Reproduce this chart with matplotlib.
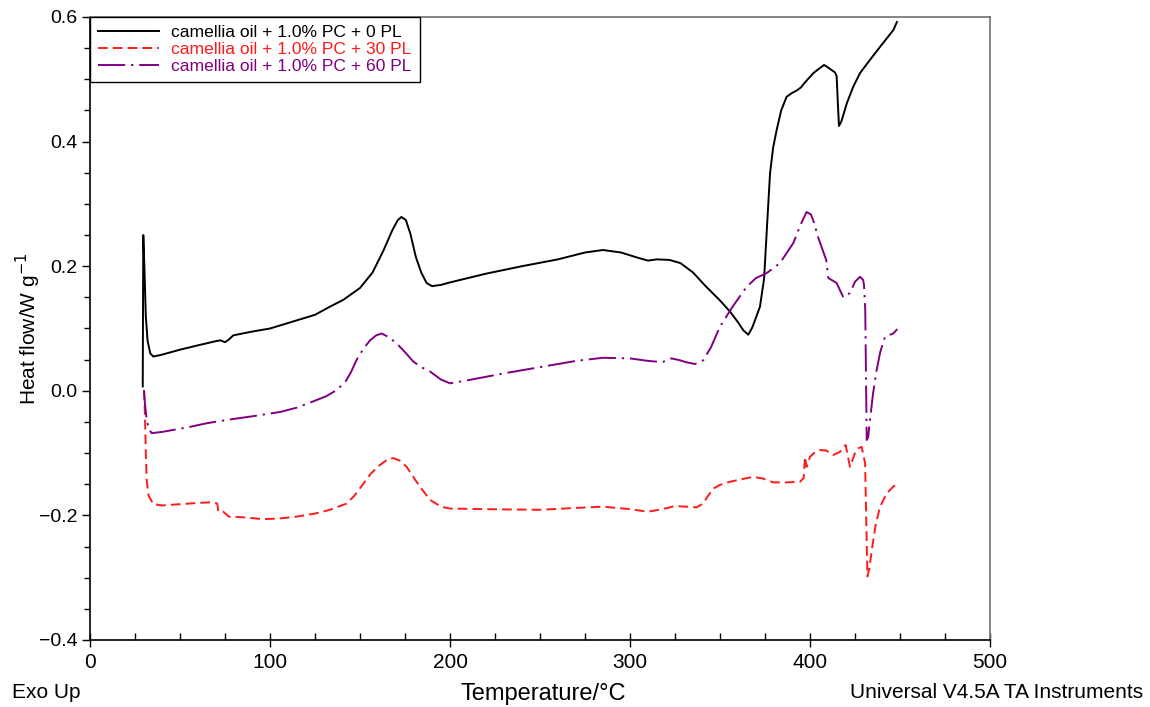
import matplotlib
matplotlib.use("Agg")
import matplotlib.pyplot as plt
from matplotlib.ticker import MultipleLocator
from matplotlib import font_manager

# ---------------- data ----------------
t_pl0 = [29.3, 29.6, 30.2, 31.0, 32.0, 33.5, 35.2, 40, 50, 60, 70.4, 72.5, 75, 77, 79.6, 90, 100,
         114.8, 125, 133.3, 140.7, 150, 157, 163, 168, 171, 173, 175.5, 178, 181, 184, 187, 190,
         195, 200, 220, 240, 260, 275, 285, 295, 305, 310, 315, 322, 328, 335, 342, 350, 355.6,
         360, 363, 365.7, 368, 372.2, 374.5, 376, 377.8, 379.5, 381.5, 384, 387, 390, 392.6, 395,
         397.2, 401.9, 405, 407.8, 410, 413.9, 414.8, 415.5, 416.1, 417.5, 420.4, 424, 427.8, 433,
         438.9, 446.3, 448.3]
h_pl0 = [0.007, 0.25, 0.20, 0.12, 0.08, 0.06, 0.055, 0.058, 0.066, 0.073, 0.080, 0.081, 0.078, 0.082,
         0.089, 0.095, 0.100, 0.113, 0.122, 0.135, 0.146, 0.165, 0.19, 0.225, 0.258, 0.274, 0.279,
         0.274, 0.252, 0.215, 0.19, 0.173, 0.168, 0.170, 0.174, 0.188, 0.200, 0.211, 0.222, 0.226,
         0.222, 0.213, 0.209, 0.211, 0.210, 0.205, 0.19, 0.168, 0.145, 0.127, 0.11, 0.097, 0.09,
         0.102, 0.135, 0.18, 0.258, 0.349, 0.39, 0.419, 0.45, 0.472, 0.478, 0.482, 0.487, 0.495,
         0.51, 0.517, 0.523, 0.519, 0.511, 0.505, 0.46, 0.425, 0.433, 0.461, 0.488, 0.51, 0.53,
         0.552, 0.579, 0.592]

t_pl30 = [30, 30.3, 30.6, 31, 31.5, 32.5, 35.2, 40, 50, 60, 66.7, 70.7, 71.3, 74, 77.2, 85, 96.3,
          105, 114.8, 125, 133.3, 142.6, 147, 151.9, 156, 161.1, 165, 168.5, 172, 175.9, 180,
          183.3, 188.9, 195, 200, 220, 250, 270, 285, 300, 310, 318, 325, 331, 337, 340.7, 343,
          346.3, 350, 355.6, 362, 368.5, 374, 379.6, 387, 394.4, 396.5, 397.2, 398.1, 400, 403,
          405.6, 409, 412.9, 416.7, 419.8, 422.2, 425, 427, 428.7, 430.6, 431.2, 431.9, 433, 434.3,
          436.5, 438.9, 442.6, 445.5, 448.5]
h_pl30 = [0.001, -0.02, -0.047, -0.1, -0.143, -0.168, -0.182, -0.184, -0.182, -0.180, -0.179, -0.181,
          -0.194, -0.194, -0.202, -0.203, -0.206, -0.205, -0.202, -0.197, -0.191, -0.181, -0.168,
          -0.149, -0.133, -0.119, -0.111, -0.108, -0.112, -0.122, -0.14, -0.154, -0.175, -0.186,
          -0.189, -0.190, -0.191, -0.188, -0.186, -0.190, -0.194, -0.19, -0.185, -0.186, -0.187,
          -0.181, -0.17, -0.157, -0.151, -0.146, -0.142, -0.138, -0.141, -0.147, -0.147, -0.146,
          -0.14, -0.106, -0.122, -0.106, -0.098, -0.095, -0.096, -0.103, -0.098, -0.087, -0.122,
          -0.1, -0.092, -0.09, -0.116, -0.2, -0.298, -0.285, -0.256, -0.215, -0.186, -0.165,
          -0.156, -0.148]

t_pl60 = [30, 30.5, 31.5, 33, 34.3, 40, 53.7, 65, 77.8, 90, 105.6, 115, 124, 131, 137, 142, 145,
          148, 152, 155.6, 159, 162, 166, 170.4, 175, 179.6, 184, 188.9, 195, 200, 210, 230, 250,
          270, 285, 300, 310, 318, 323, 327.8, 331, 336.1, 340.7, 345, 350, 357, 364.8, 370, 376,
          383.3, 390.7, 394.5, 398.1, 400.5, 402.8, 403.7, 407.4, 409, 410.2, 414.8, 418.5, 422.2,
          425, 427.8, 429.5, 430, 430.7, 431.2, 431.5, 432.3, 433.3, 435, 437, 439, 441.7, 446.3,
          448.5]
h_pl60 = [0.001, -0.02, -0.047, -0.063, -0.068, -0.066, -0.059, -0.052, -0.046, -0.041, -0.034,
          -0.027, -0.017, -0.009, 0.001, 0.015, 0.03, 0.049, 0.068, 0.081, 0.089, 0.092, 0.086,
          0.076, 0.062, 0.047, 0.038, 0.031, 0.018, 0.012, 0.017, 0.028, 0.038, 0.048, 0.053,
          0.052, 0.048, 0.046, 0.052, 0.049, 0.046, 0.043, 0.049, 0.07, 0.103, 0.135, 0.167,
          0.181, 0.189, 0.205, 0.237, 0.265, 0.287, 0.283, 0.266, 0.253, 0.223, 0.21, 0.181,
          0.173, 0.15, 0.157, 0.175, 0.183, 0.178, 0.17, 0.13, 0.0, -0.079, -0.075, -0.047,
          -0.005, 0.033, 0.062, 0.087, 0.092, 0.099]

labels = ["camellia oil + 1.0% PC + 0 PL",
          "camellia oil + 1.0% PC + 30 PL",
          "camellia oil + 1.0% PC + 60 PL"]
colors = ["black", "#ff1a1a", "#800080"]

# ---------------- fonts ----------------
avail = {f.name for f in font_manager.fontManager.ttflist}
base = "Liberation Sans" if "Liberation Sans" in avail else "DejaVu Sans"
narrow = "Liberation Sans Narrow" if "Liberation Sans Narrow" in avail else base
plt.rcParams["font.family"] = [base, "DejaVu Sans"]
plt.rcParams["axes.unicode_minus"] = True

fig = plt.figure(figsize=(11.5, 7.07), dpi=100)
ax = fig.add_axes([90 / 1150, 67 / 707, 900 / 1150, 623 / 707])

lw = 1.4
ax.plot(t_pl0, h_pl0, color=colors[0], lw=lw, label=labels[0])
ax.plot(t_pl30, h_pl30, color=colors[1], lw=lw, dashes=(5, 2.6), label=labels[1])
ax.plot(t_pl60, h_pl60, color=colors[2], lw=lw, dashes=(14, 3, 1.2, 3), label=labels[2])

ax.set_xlim(0, 500)
ax.set_ylim(-0.4, 0.6)
ax.xaxis.set_major_locator(MultipleLocator(100))
ax.xaxis.set_minor_locator(MultipleLocator(25))
ax.yaxis.set_major_locator(MultipleLocator(0.2))
ax.yaxis.set_minor_locator(MultipleLocator(0.05))
ax.yaxis.set_major_formatter(matplotlib.ticker.FuncFormatter(
    lambda v, p: ("%.1f" % v).replace("-", "\u2212")))

ax.tick_params(axis="x", which="major", direction="inout", length=10, width=1,
               labelsize=15, pad=4)
ax.tick_params(axis="x", which="minor", direction="in", length=5, width=1)
ax.tick_params(axis="y", which="major", direction="out", length=6, width=1,
               labelsize=14, pad=3)
ax.tick_params(axis="y", which="minor", direction="out", length=4, width=1)
for lab in ax.get_xticklabels():
    lab.set_family([narrow, base])

for s in ["top", "right"]:
    ax.spines[s].set_color("#707070")
    ax.spines[s].set_linewidth(1.2)
for s in ["left", "bottom"]:
    ax.spines[s].set_color("black")
    ax.spines[s].set_linewidth(1.2)

ax.set_ylabel("Heat flow/W g$^{\u22121}$", fontsize=15)
ax.yaxis.set_label_coords(-0.052, 0.5)

fig.text(543 / 1150, 13 / 707, "Temperature/\u00b0C", ha="center", va="center",
         fontsize=17, family=[narrow, base])
fig.text(12 / 1150, 15 / 707, "Exo Up", ha="left", va="center",
         fontsize=15, family=[narrow, base])
fig.text(1143 / 1150, 15 / 707, "Universal V4.5A TA Instruments", ha="right", va="center",
         fontsize=15, family=[narrow, base])

leg = ax.legend(loc="upper left", bbox_to_anchor=(0.0, 1.0), fontsize=12.6,
                frameon=True, fancybox=False, edgecolor="black", framealpha=1,
                borderpad=0.45, handlelength=3.5, handletextpad=0.7, labelspacing=0.1,
                borderaxespad=0.0)
leg.get_frame().set_linewidth(1.0)
for txt, c in zip(leg.get_texts(), colors):
    txt.set_color(c)

fig.savefig("out.png", dpi=100)
